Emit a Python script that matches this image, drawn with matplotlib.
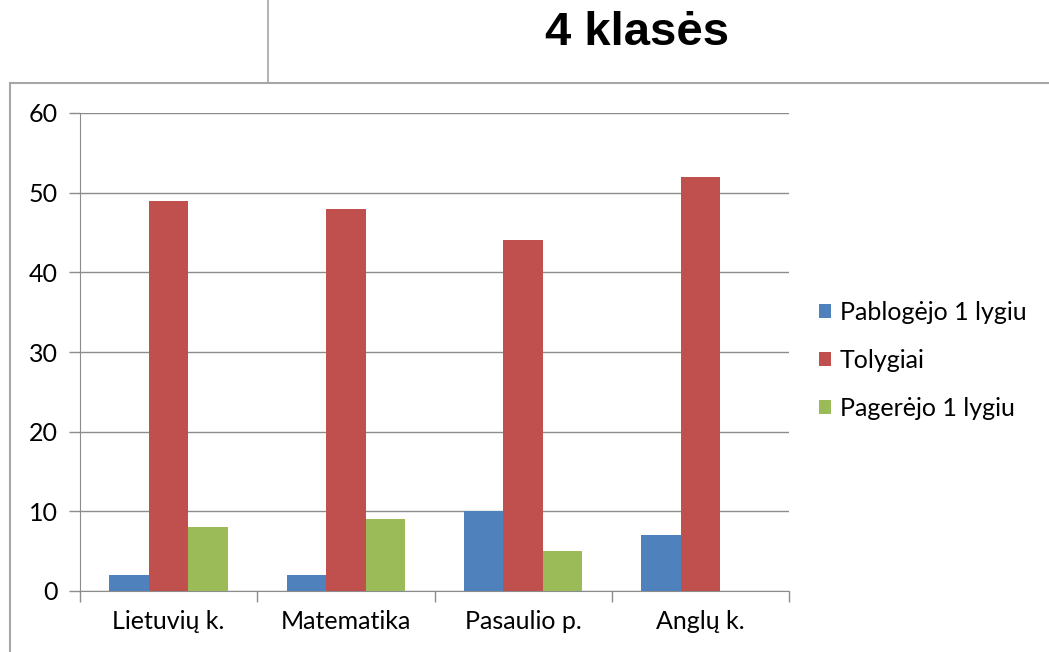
import matplotlib.pyplot as plt
import numpy as np
from matplotlib.lines import Line2D

categories = ['Lietuvių k.', 'Matematika', 'Pasaulio p.', 'Anglų k.']
pablogejo = [2, 2, 10, 7]
tolygiai = [49, 48, 44, 52]
pagerejo = [8, 9, 5, 0]
series_names = ['Pablogėjo 1 lygiu', 'Tolygiai', 'Pagerėjo 1 lygiu']
colors = ['#4F81BD', '#C0504D', '#9BBB59']

plt.rcParams['font.family'] = ['Lato', 'DejaVu Sans']

fig = plt.figure(figsize=(10.49, 6.52), dpi=100)
ax = fig.add_axes([80 / 1049, 1 - 591 / 652, 709 / 1049, 478 / 652])

x = np.arange(len(categories))
w = 0.223
for i, (vals, name, c) in enumerate(zip([pablogejo, tolygiai, pagerejo], series_names, colors)):
    ax.bar(x + (i - 1) * w, vals, w, color=c, label=name, zorder=3)

ax.set_xlim(-0.5, len(categories) - 0.5)
ax.set_ylim(0, 60)
ax.set_yticks(range(0, 61, 10))
ax.set_yticklabels([str(v) for v in range(0, 61, 10)], fontsize=18)
ax.yaxis.grid(True, color='#8C8C8C', linewidth=1)
ax.set_axisbelow(True)

ax.set_xticks(x)
ax.set_xticklabels(categories, fontsize=18)
ax.tick_params(axis='x', which='major', length=0, pad=14)
ax.set_xticks(np.arange(-0.5, len(categories), 1), minor=True)
ax.tick_params(axis='x', which='minor', length=8, color='#8C8C8C', width=1)
ax.tick_params(axis='y', length=8, color='#8C8C8C', width=1, pad=8)

for s in ['top', 'right']:
    ax.spines[s].set_visible(False)
ax.spines['left'].set_color('#8C8C8C')
ax.spines['bottom'].set_color('#8C8C8C')

handles, labels = ax.get_legend_handles_labels()
fig.legend(handles, labels, loc='center left', bbox_to_anchor=(796 / 1049, 1 - 360 / 652),
           frameon=False, fontsize=18, handlelength=0.5, handleheight=0.5,
           handletextpad=0.35, labelspacing=1.0)

fig.text(637 / 1049, 1 - 33 / 652, '4 klasės', fontsize=34, fontweight='bold',
         family='Liberation Sans', ha='center', va='center')

# frame lines from the original slide
gray = '#A6A6A6'
fig.add_artist(Line2D([10 / 1049, 1], [1 - 83 / 652] * 2, color=gray, lw=1.5))
fig.add_artist(Line2D([10 / 1049] * 2, [0, 1 - 83 / 652], color=gray, lw=1.5))
fig.add_artist(Line2D([268 / 1049] * 2, [1 - 83 / 652, 1], color=gray, lw=1.2))

fig.savefig('out.png', dpi=100)
